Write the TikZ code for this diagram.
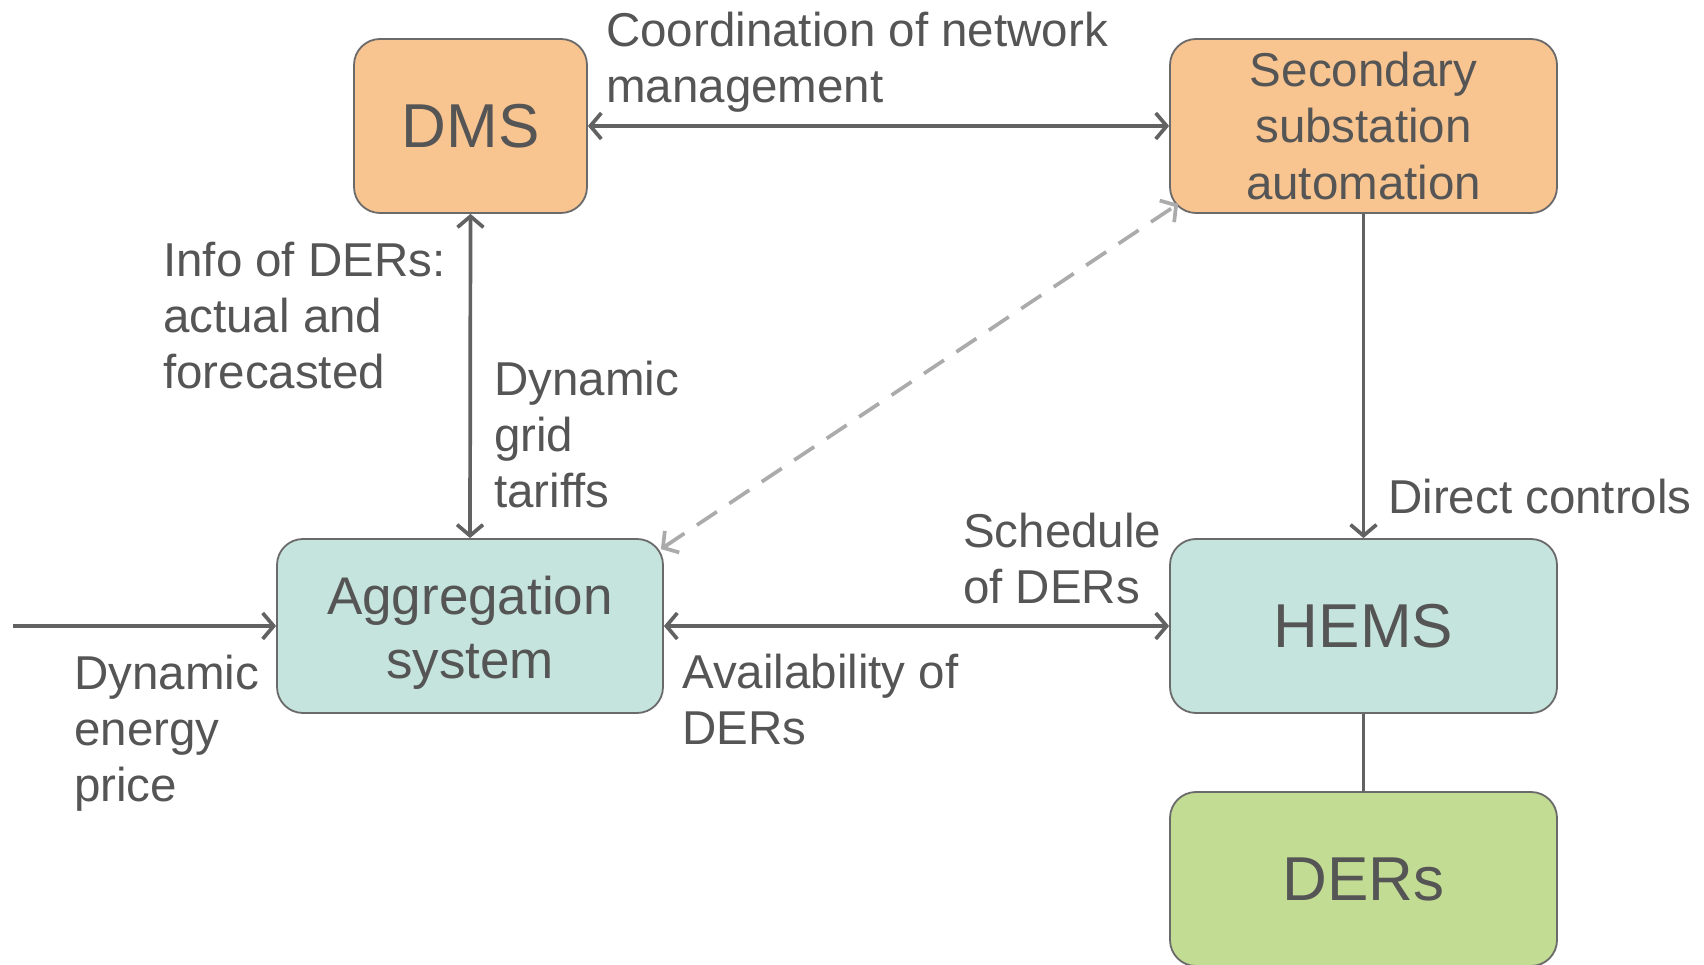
\documentclass[tikz,border=0pt]{standalone}
\usepackage{fontspec}
\setmainfont{Liberation Sans}
\usetikzlibrary{arrows.meta,calc}
\definecolor{txtgray}{HTML}{555555}
\definecolor{edgegray}{HTML}{6A6A6A}
\definecolor{arrgray}{HTML}{626262}
\definecolor{dashgray}{HTML}{ABABAB}
\definecolor{boxorange}{HTML}{F8C490}
\definecolor{boxteal}{HTML}{C5E4DD}
\definecolor{boxgreen}{HTML}{C3DC94}
\begin{document}
\begin{tikzpicture}[x=1pt,y=1pt,
  box/.style={draw=edgegray, line width=1.8pt, rounded corners=26pt, minimum height=174pt, inner sep=0pt, text=txtgray, align=center},
  bigtxt/.style={font=\fontsize{62}{70}\selectfont},
  lbl/.style={anchor=north west, inner sep=0pt, text=txtgray, align=left, font=\fontsize{47.5}{56}\selectfont},
  conn/.style={draw=arrgray, line width=3.7pt, >={Straight Barb[length=11pt,width=26pt]}},
  dconn/.style={draw=dashgray, line width=3.7pt, dash pattern=on 24pt off 15pt, >={Straight Barb[length=11pt,width=26pt]}}
]
\useasboundingbox (0,0) rectangle (1704,964);
% boxes
\node[box, fill=boxorange, minimum width=233pt, bigtxt] (dms) at (470.5,838) {DMS};
\node[box, fill=boxorange, minimum width=387pt, font=\fontsize{47.5}{56.5}\selectfont] (ssa) at (1363.5,838) {Secondary\\substation\\automation};
\node[box, fill=boxteal, minimum width=386pt, font=\fontsize{53}{64}\selectfont] (agg) at (470,338) {\rule{0pt}{51pt}Aggregation\\system};
\node[box, fill=boxteal, minimum width=387pt, bigtxt] (hems) at (1363.5,338) {HEMS};
\node[box, fill=boxgreen, minimum width=387pt, bigtxt] (ders) at (1363.5,85) {DERs};
% coordinates
\coordinate (src) at (13,338);
\coordinate (dA) at ($(agg.north east)+(-3,-11)$);
\coordinate (dS) at ($(ssa.south west)+(9,10)$);
% connectors
\draw[conn,<->] (dms.east) -- (ssa.west);
\draw[conn,<->] (dms.south) -- (agg.north);
\draw[conn,->] (ssa.south) -- (hems.north);
\draw[conn,<->] (agg.east) -- (hems.west);
\draw[conn,->] (src) -- (agg.west);
\draw[draw=arrgray, line width=3.5pt] (hems.south) -- (ders.north);
\draw[dconn,<->] (dA) -- (dS);
% labels
\node[lbl] (lcoord) at (606,956.5) {\strut Coordination of network\\management};
\node[lbl] (linfo) at (163,727) {\strut Info of DERs:\\actual and\\forecasted};
\node[lbl] (lgrid) at (494,607.6) {\strut Dynamic\\grid\\tariffs};
\node[lbl] (ldirect) at (1388,490) {\strut Direct controls};
\node[lbl] (lsched) at (963,455.5) {\strut Schedule\\of DERs};
\node[lbl] (lavail) at (682,315) {\strut Availability of\\DERs};
\node[lbl] (lprice) at (74,314) {\strut Dynamic\\energy\\price};
\end{tikzpicture}
\end{document}
